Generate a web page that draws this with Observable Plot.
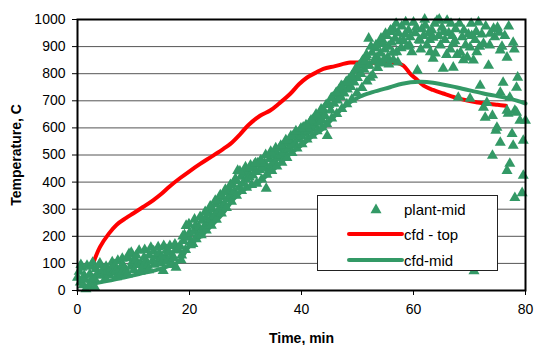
<!DOCTYPE html>
<html>
<head>
<meta charset="utf-8">
<script src="https://cdn.jsdelivr.net/npm/d3@7"></script>
<script src="https://cdn.jsdelivr.net/npm/@observablehq/plot@0.6"></script>
<style>
  html, body { margin: 0; padding: 0; background: #fff; }
  #wrap { position: relative; width: 534px; height: 345px; font-family: "Liberation Sans", Arial, sans-serif; }
  #legend { position: absolute; left: 317px; top: 195px; width: 181px; height: 76px; background: #fff; border: 1px solid #222; box-sizing: border-box; }
  #legend .row { position: absolute; left: 0; height: 20px; width: 100%; }
  #legend svg { position: absolute; left: 0; top: 0; }
  #legend span { position: absolute; left: 86px; top: 1px; font-size: 15px; color: #000; line-height: 18px; }
</style>
</head>
<body>
<div id="wrap"></div>
<script>
// ---- data ----
const xTicks = [0, 20, 40, 60, 80];
const yTicks = [0, 100, 200, 300, 400, 500, 600, 700, 800, 900, 1000];

const seriesNames = ["plant-mid", "cfd - top", "cfd-mid"];

// plant-mid measurements, time (min)
const plantMidTime = [
  // 0-18 min
  0.0, 0.3, 0.5, 0.6, 0.8, 1.0, 1.2, 1.3, 1.5, 1.7, 2.0, 2.2, 2.4, 2.5, 2.7, 3.0, 3.1, 3.3, 3.6, 3.9,
  4.0, 4.2, 4.5, 4.8, 5.0, 5.1, 5.4, 5.7, 6.0, 6.2, 6.3, 6.6, 6.9, 7.0, 7.2, 7.5, 7.8, 8.0, 8.1, 8.4, 8.7, 8.9, 9.0, 9.2, 9.5, 9.6, 9.8, 10.1, 10.4, 10.5,
  10.7, 11.0, 11.2, 11.3, 11.6, 11.9, 12.0, 12.2, 12.5, 12.7, 12.8, 13.1, 13.4, 13.6, 13.7, 14.0, 14.3, 14.4, 14.6, 14.9, 15.0, 15.3, 15.4, 15.7, 15.9,
  16.0, 16.3, 16.5, 16.6, 16.9, 17.0, 17.2, 17.4, 17.5, 17.6, 18.0,
  // 18-56 min, middle of band
  18.3, 18.6, 18.9, 19.1, 19.4, 19.7, 20.0, 20.3, 20.6, 20.8, 21.1, 21.4, 21.7, 22.0, 22.3,
  22.6, 22.9, 23.2, 23.5, 23.8, 24.1, 24.4, 24.7, 25.0, 25.3, 25.6, 25.9, 26.2, 26.5, 26.8, 27.1, 27.4, 27.7, 28.0, 28.3, 28.6, 28.9,
  29.2, 29.5, 29.8, 30.1, 30.4, 30.7, 31.0, 31.3, 31.6, 31.9, 32.2, 32.5, 32.8, 33.1, 33.4, 33.7, 34.0, 34.3, 34.6, 34.9, 35.2, 35.5, 35.8, 36.1, 36.4, 36.7,
  37.0, 37.3, 37.6, 37.9, 38.2, 38.5, 38.8, 39.1, 39.4, 39.7, 40.0, 40.3, 40.6, 40.9, 41.2, 41.5, 41.8, 42.1, 42.4, 42.7, 43.0, 43.3, 43.6, 43.9, 44.2, 44.6,
  44.9, 45.2, 45.5, 45.8, 46.1, 46.4, 46.7, 47.0, 47.3, 47.6, 47.9, 48.2, 48.5, 48.8, 49.1, 49.4, 49.7, 50.0, 50.3, 50.6, 50.9, 51.2, 51.5, 51.8, 52.0, 52.3,
  52.6, 52.9, 53.2, 53.5, 53.8, 54.1, 54.4, 54.6, 54.9, 55.2, 55.5, 55.8, 56.1, 56.4, 56.7, 57.0, 57.3, 57.6, 57.9, 58.2, 58.5, 58.8, 59.1, 59.4, 59.7,
  // 18-56 min, upper edge of band
  18.8, 19.9, 20.9, 21.9, 22.8, 23.7, 24.6, 25.5, 26.4, 27.3, 28.2, 29.0, 30.0, 30.9, 31.8, 32.7, 33.6, 34.5, 35.4, 36.3, 37.2, 38.1, 39.0, 39.9,
  40.8, 41.7, 42.6, 43.5, 44.4, 45.3, 46.2, 47.1, 48.0, 48.9, 49.8, 50.7, 51.6, 52.4, 53.3, 54.2, 55.0, 55.9,
  // 18-56 min, lower edge of band
  18.5, 19.3, 20.2, 21.2, 22.1, 23.0, 23.9, 24.8, 25.7, 26.6, 27.5, 28.4, 29.3, 30.2, 31.1, 32.0, 32.9, 33.8, 34.7, 35.6, 36.5, 37.4, 38.3, 39.2,
  40.1, 41.0, 41.9, 42.8, 43.7, 44.5, 45.4, 46.3, 47.2, 48.1, 49.0, 49.9, 50.8, 51.7, 52.7, 53.6, 54.5, 55.4, 56.3,
  // around the cfd-top plateau
  51.4, 52.1, 53.0, 53.9, 54.8, 55.6, 56.4, 57.2,
  // 56-80 min, scattered cluster
  56.9, 57.8, 58.6, 59.3, 60.5, 61.3, 62.0, 62.9, 63.9, 64.6, 65.4, 65.9, 66.7, 67.4, 68.2, 68.9, 69.8, 70.3, 71.2, 71.8, 72.9, 73.6, 74.5, 75.8, 76.3, 77.0, 78.0,
  60.0, 60.3, 60.7, 61.0, 61.2, 61.5, 61.8, 62.1, 62.4, 62.7, 63.0, 63.3, 63.5, 63.5, 63.8, 64.2, 64.5, 64.8, 65.1, 65.3, 65.6, 66.0, 66.3, 66.6, 66.9,
  67.1, 67.1, 67.5, 67.8, 68.0, 68.4, 68.7, 69.0, 69.3, 69.6, 70.1, 70.1, 70.4, 70.7, 70.8, 71.0, 71.3, 71.6, 71.9, 72.2, 72.5, 72.5, 72.8, 73.1, 73.4, 73.7,
  74.1, 74.1, 74.3, 74.7, 74.9, 75.0, 75.3, 75.5, 75.5, 75.5, 76.0, 76.7, 76.7, 76.7, 76.9, 77.2, 77.2, 77.6, 77.8, 77.8, 78.1, 78.1, 78.4, 78.4, 78.6,
  79.0, 79.4, 79.6, 79.6, 80.0
];
// plant-mid measurements, temperature (C)
const plantMidTemp = [
  48, 70, 30, 95, 85, 20, 55, 40, 5, 92, 15, 60, 88, 40, 103, 45, 12, 80, 62, 95,
  100, 55, 75, 60, 45, 88, 70, 58, 82, 105, 66, 95, 72, 50, 110, 78, 62, 118, 92, 84, 70, 60, 120, 135, 88, 140, 105, 76, 112, 130,
  95, 147, 70, 100, 84, 122, 150, 108, 92, 75, 130, 158, 110, 145, 96, 125, 104, 160, 138, 118, 100, 73, 165, 128, 150,
  110, 142, 165, 100, 130, 95, 120, 170, 148, 85, 150,
  165, 130, 183, 205, 239, 195, 212, 180, 172, 220, 240, 205, 232, 215, 258,
  235, 270, 248, 285, 262, 300, 275, 318, 290, 330, 305, 345, 318, 362, 338, 375, 350, 392, 365, 405, 442, 380,
  420, 395, 432, 410, 440, 418, 452, 425, 465, 438, 470, 445, 478, 455, 470, 376, 450, 485, 462, 498, 475, 510, 488, 525, 500, 532,
  510, 545, 520, 558, 535, 570, 545, 580, 558, 590, 570, 602, 580, 607, 588, 620, 598, 632, 610, 642, 620, 655, 630, 668, 645, 571,
  685, 665, 712, 690, 725, 702, 740, 715, 752, 728, 765, 742, 780, 752, 795, 768, 812, 785, 830, 800, 848, 815, 862, 830, 930, 786,
  878, 845, 895, 860, 910, 875, 925, 911, 890, 940, 900, 955, 915, 966, 930, 880, 950, 920, 975, 922, 945, 900, 960, 935, 880,
  // upper edge
  200, 245, 262, 272, 290, 310, 332, 352, 372, 390, 412, 440, 455, 462, 470, 480, 500, 512, 525, 535, 555, 570, 588, 598,
  610, 628, 650, 668, 685, 710, 730, 755, 770, 790, 822, 840, 870, 900, 905, 930, 948, 960,
  // lower edge
  112, 150, 168, 190, 205, 222, 240, 262, 285, 305, 328, 350, 368, 380, 390, 395, 410, 428, 442, 458, 472, 490, 508, 525,
  540, 558, 572, 588, 602, 615, 635, 652, 670, 688, 705, 728, 748, 772, 795, 822, 840, 860, 878,
  // plateau cover
  845, 830, 850, 838, 855, 835, 850, 842,
  // 56-80 cluster
  985, 895, 990, 905, 970, 890, 1000, 925, 875, 1000, 955, 870, 985, 920, 985, 850, 945, 985, 955, 900, 975, 905, 935, 900, 940, 975, 890,
  989, 950, 812, 925, 922, 965, 940, 978, 905, 950, 880, 960, 933, 856, 985, 996, 940, 905, 970, 819, 925, 996, 950, 890, 940,
  911, 823, 965, 870, 712, 878, 935, 960, 905, 860, 897, 708, 940, 849, 72, 925, 880, 990, 756, 945, 911, 675, 638, 693, 830, 948,
  645, 498, 966, 590, 601, 970, 952, 886, 730, 546, 767, 860, 664, 442, 653, 712, 468, 578, 915, 535, 664, 342, 749, 657, 786,
  627, 360, 553, 424, 627
];

const cfdTopTime = [2.7, 4, 5.6, 7, 8.7, 10, 11.7, 13.5, 15, 16.5, 18.4, 20, 21.9, 24, 26, 27.3, 29.1, 30.4, 32.6, 34.4, 36, 38, 39.5, 41, 42.5, 43.9, 46, 48.7, 50.8, 53, 55, 57, 58.2, 59.4, 60.5, 61.8, 63.5, 65.3, 67.5, 69.6, 71.5, 73.1, 75, 76.5];
const cfdTopTemp = [95, 160, 210, 243, 268, 285, 308, 333, 357, 385, 416, 440, 467, 495, 522, 541, 578, 608, 645, 664, 690, 726, 760, 786, 803, 818, 828, 841, 841, 840, 840, 840, 830, 800, 780, 756, 740, 727, 712, 701, 694, 689, 685, 682];

const cfdMidTime = [2, 4, 6, 8, 10, 12, 14, 16, 18, 20, 22, 24, 26, 28, 30, 32, 34, 36, 38, 40, 42, 44, 46, 48, 50.4, 52.7, 55.8, 58, 61, 63.5, 67.8, 72.5, 77.2, 80];
const cfdMidTemp = [22, 30, 38, 47, 56, 66, 75, 88, 105, 165, 200, 240, 285, 340, 375, 393, 428, 465, 505, 535, 570, 600, 645, 685, 715, 732, 750, 763, 770, 767, 749, 727, 708, 690];

// ---- build tables ----
const plant = plantMidTime.map((t, i) => ({t, v: plantMidTemp[i]}));
const top_ = cfdTopTime.map((t, i) => ({t, v: cfdTopTemp[i]}));
const mid = cfdMidTime.map((t, i) => ({t, v: cfdMidTemp[i]}));

const GREEN = "#339966";
const RED = "#ff0000";
const R = 4.1;

const chart = Plot.plot({
  width: 534,
  height: 345,
  marginLeft: 77,
  marginRight: 9,
  marginTop: 19,
  marginBottom: 55,
  style: {fontFamily: "'Liberation Sans', Arial, sans-serif", fontSize: "14px", color: "#000", background: "#fff"},
  x: {domain: [0, 80], ticks: xTicks},
  y: {domain: [0, 1000], ticks: yTicks},
  marks: [
    Plot.gridY(yTicks, {stroke: "#555", strokeOpacity: 1, strokeWidth: 1}),
    Plot.line(top_, {x: "t", y: "v", stroke: RED, strokeWidth: 4, curve: "catmull-rom"}),
    Plot.line(mid, {x: "t", y: "v", stroke: GREEN, strokeWidth: 4, curve: "catmull-rom"}),
    Plot.dot(plant, {x: "t", y: "v", symbol: "triangle", r: R, fill: GREEN, stroke: "none"}),
    Plot.frame({stroke: "#000", strokeWidth: 2}),
    Plot.axisY(yTicks, {tickSize: 5, tickPadding: 7, stroke: "#000", fontSize: 14, tickFormat: d => String(d),
      label: "Temperature, C", labelAnchor: "center", labelOffset: 66, labelArrow: "none"}),
    Plot.axisX(xTicks, {tickSize: 5, tickPadding: 9, stroke: "#000", fontSize: 14, tickFormat: d => String(d),
      label: "Time, min", labelAnchor: "center", labelOffset: 52, labelArrow: "none"})
  ]
});

// bold axis titles
chart.querySelectorAll('[aria-label="y-axis label"] text, [aria-label="x-axis label"] text').forEach(t => {
  t.setAttribute("font-weight", "bold");
});

const wrap = document.getElementById("wrap");
wrap.appendChild(chart);

// legend (HTML overlay)
const legend = document.createElement("div");
legend.id = "legend";
const rows = [
  {name: seriesNames[0], kind: "tri", color: GREEN, top: 4},
  {name: seriesNames[1], kind: "line", color: RED, top: 29},
  {name: seriesNames[2], kind: "line", color: GREEN, top: 55}
];
rows.forEach(r => {
  const row = document.createElement("div");
  row.className = "row";
  row.style.top = r.top + "px";
  const svgNS = "http://www.w3.org/2000/svg";
  const s = document.createElementNS(svgNS, "svg");
  s.setAttribute("width", "90");
  s.setAttribute("height", "20");
  if (r.kind === "tri") {
    const sym = d3.symbol(d3.symbolTriangle, R * R * Math.PI)();
    const p = document.createElementNS(svgNS, "path");
    p.setAttribute("d", sym);
    p.setAttribute("transform", "translate(58,10)");
    p.setAttribute("fill", r.color);
    s.appendChild(p);
  } else {
    const l = document.createElementNS(svgNS, "line");
    l.setAttribute("x1", "31"); l.setAttribute("x2", "84");
    l.setAttribute("y1", "9"); l.setAttribute("y2", "9");
    l.setAttribute("stroke", r.color); l.setAttribute("stroke-width", "4");
    l.setAttribute("stroke-linecap", "round");
    s.appendChild(l);
  }
  row.appendChild(s);
  const span = document.createElement("span");
  span.textContent = r.name;
  row.appendChild(span);
  legend.appendChild(row);
});
wrap.appendChild(legend);
</script>
</body>
</html>
